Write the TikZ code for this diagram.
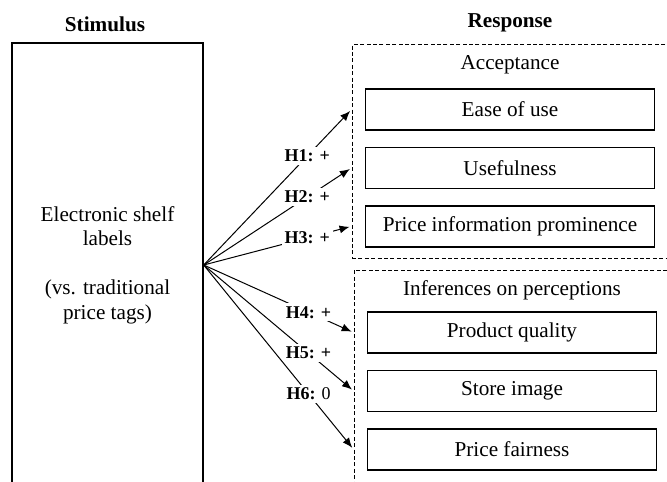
\documentclass[tikz,border=0pt]{standalone}
\usepackage{fontspec}
\setmainfont{Liberation Serif}
\usetikzlibrary{positioning,fit,arrows.meta}

\begin{document}
\begin{tikzpicture}[x=0.5pt,y=-0.5pt,node distance=8pt,
  font=\fontsize{10.6}{12.25}\selectfont,
  respbox/.style={draw,line width=0.7pt,minimum width=144.5pt,minimum height=20.5pt,inner sep=0pt},
  group/.style={draw,dash pattern=on 2pt off 1.2pt,line width=0.5pt,inner sep=0pt},
  hyp/.style={-{Latex[length=5pt,width=4pt]},line width=0.5pt,shorten >=1pt},
  hlabel/.style={fill=white,inner sep=1.5pt,font=\fontsize{9}{10.5}\selectfont}]
\useasboundingbox (0,0) rectangle (667,481);
% column titles
\node[font=\fontsize{10.6}{12.25}\selectfont\bfseries] (stimtitle) at (105,24) {Stimulus};
\node[font=\fontsize{10.6}{12.25}\selectfont\bfseries] (resptitle) at (510,23) {Response};
% stimulus
\node[draw,line width=0.7pt,minimum width=95.5pt,minimum height=222pt,align=center] (stim) at (107.5,265)
  {Electronic shelf\\labels\\[\baselineskip](vs. traditional\\price tags)};
% dashed groups
\node[group,fit={(352,45)(690,258)}] (acc) {};
\node[group,fit={(354,270)(690,500)}] (inf) {};
% acceptance
\node (acctitle) at (510,65) {Acceptance};
\node[respbox] (ease) at (510,109.5) {Ease of use};
\node[respbox,below=of ease] (useful) {Usefulness};
\node[respbox,below=of useful] (prom) {Price information prominence};
% inferences
\node (inftitle) at (512,290) {Inferences on perceptions};
\node[respbox] (quality) at (512,332.5) {Product quality};
\node[respbox,below=of quality] (store) {Store image};
\node[respbox,below=of store] (fair) {Price fairness};
% hypotheses
\draw[hyp] (stim.east) -- node[hlabel,pos=0.7] {\textbf{H1: +}} (ease.west -| acc.west);
\draw[hyp] (stim.east) -- node[hlabel,pos=0.7] {\textbf{H2: +}} (useful.west -| acc.west);
\draw[hyp] (stim.east) -- node[hlabel,pos=0.7] {\textbf{H3: +}} (prom.west -| acc.west);
\draw[hyp] (stim.east) -- node[hlabel,pos=0.7] {\textbf{H4: +}} (quality.west -| inf.west);
\draw[hyp] (stim.east) -- node[hlabel,pos=0.7] {\textbf{H5: +}} (store.west -| inf.west);
\draw[hyp] (stim.east) -- node[hlabel,pos=0.7] {\textbf{H6:} 0} (fair.west -| inf.west);
\end{tikzpicture}
\end{document}
